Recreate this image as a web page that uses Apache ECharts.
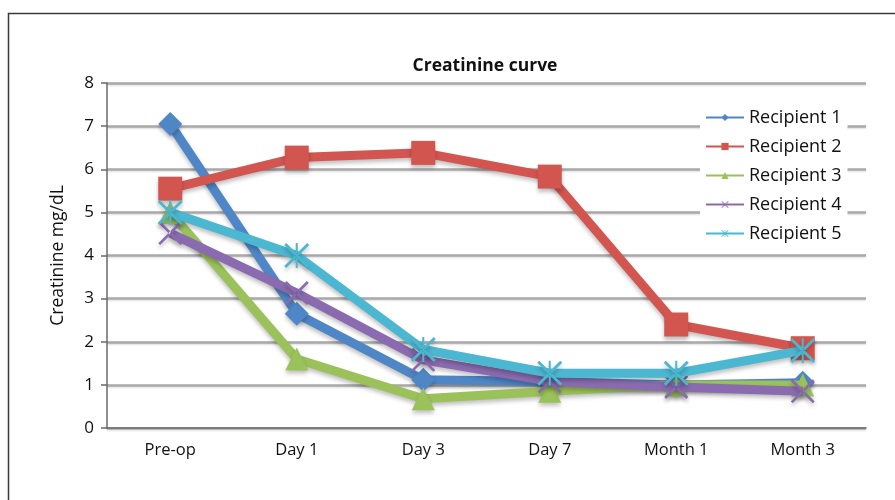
<!DOCTYPE html>
<html>
<head>
<meta charset="utf-8">
<script src="https://cdn.jsdelivr.net/npm/echarts@6/dist/echarts.min.js"></script>
<style>
  html, body { margin: 0; padding: 0; background: #fff; }
  #chart { width: 895px; height: 500px; }
</style>
</head>
<body>
<div id="chart"></div>
<script>
// Time points after transplantation
const categories = ['Pre-op', 'Day 1', 'Day 3', 'Day 7', 'Month 1', 'Month 3'];

// Serum creatinine (mg/dL) per recipient
const recipient1 = [7.05, 2.65, 1.12, 1.08, 1.0, 1.05];
const recipient2 = [5.55, 6.27, 6.38, 5.83, 2.4, 1.85];
const recipient3 = [5.0, 1.6, 0.68, 0.85, 1.0, 1.0];
const recipient4 = [4.52, 3.13, 1.58, 1.08, 0.95, 0.85];
const recipient5 = [5.0, 4.0, 1.82, 1.27, 1.27, 1.8];

const seriesNames = ['Recipient 1', 'Recipient 2', 'Recipient 3', 'Recipient 4', 'Recipient 5'];
const yTicks = [0, 1, 2, 3, 4, 5, 6, 7, 8];

const colors = ['#4f86c6', '#d2564f', '#9bc15a', '#8a6bb0', '#4bb7d1'];

// Stroke-like marker outlines built as thin filled bars
const xMark = 'path://M0,1.6L1.6,0L20,18.4L18.4,20Z M20,1.6L18.4,0L0,18.4L1.6,20Z';
const starMark = 'path://M0,1.6L1.6,0L20,18.4L18.4,20Z M20,1.6L18.4,0L0,18.4L1.6,20Z M9.2,0L10.8,0L10.8,20L9.2,20Z';

const symbols = ['diamond', 'rect', 'triangle', xMark, starMark];
const symbolSizes = [24, 24, 23, 24, 25];
const values = [recipient1, recipient2, recipient3, recipient4, recipient5];

const font = '"Open Sans", "Noto Sans", sans-serif';

const chart = echarts.init(document.getElementById('chart'), null, { renderer: 'canvas' });

chart.setOption({
  animation: false,
  color: colors,
  textStyle: { fontFamily: font },
  graphic: [{
    type: 'rect',
    left: 6, top: 11,
    shape: { width: 1000, height: 600 },
    style: { fill: 'none', stroke: '#3a3a3a', lineWidth: 1.5 },
    z: 100
  }],
  title: {
    text: 'Creatinine curve',
    left: 480, top: 52, textAlign: 'center',
    textStyle: { fontFamily: font, fontSize: 17.5, fontWeight: 'bold', color: '#111' }
  },
  legend: {
    orient: 'vertical',
    left: 700, top: 101,
    padding: [6, 6, 6, 5],
    backgroundColor: '#fff',
    itemWidth: 38, itemHeight: 9,
    itemGap: 8,
    data: seriesNames,
    textStyle: { fontFamily: font, fontSize: 18, color: '#111', lineHeight: 21 },
    z: 10
  },
  grid: { left: 107, right: 29, top: 83, bottom: 72 },
  xAxis: {
    type: 'category',
    data: categories,
    boundaryGap: true,
    axisLine: { lineStyle: { color: '#6a6a6a', width: 1.5 } },
    axisTick: { alignWithLabel: true, length: 6, lineStyle: { color: '#6a6a6a', width: 1.5 } },
    axisLabel: { fontFamily: font, fontSize: 16.5, color: '#111', margin: 14 }
  },
  yAxis: {
    type: 'value',
    min: yTicks[0], max: yTicks[yTicks.length - 1], interval: 1,
    name: 'Creatinine mg/dL',
    nameLocation: 'middle',
    nameGap: 40,
    nameTextStyle: { fontFamily: font, fontSize: 17.5, color: '#111' },
    axisLine: { show: true, lineStyle: { color: '#6a6a6a', width: 1.5 } },
    axisTick: { show: true, length: 6, inside: false, lineStyle: { color: '#6a6a6a', width: 1.5 } },
    axisLabel: { fontFamily: font, fontSize: 17, color: '#111', margin: 13 },
    splitLine: {
      lineStyle: { color: '#a9a9a9', width: 2.5, shadowColor: 'rgba(0,0,0,0.15)', shadowBlur: 2, shadowOffsetY: 1 }
    }
  },
  series: seriesNames.map((name, i) => ({
    name,
    type: 'line',
    data: values[i],
    symbol: symbols[i],
    symbolSize: symbolSizes[i],
    showAllSymbol: true,
    z: 3 + i,
    lineStyle: {
      width: 9,
      color: colors[i],
      shadowColor: 'rgba(0,0,0,0.25)', shadowBlur: 4, shadowOffsetY: 3
    },
    itemStyle: {
      color: colors[i],
      shadowColor: 'rgba(0,0,0,0.25)', shadowBlur: 4, shadowOffsetY: 3
    },
    emphasis: { disabled: true }
  }))
});
</script>
</body>
</html>
